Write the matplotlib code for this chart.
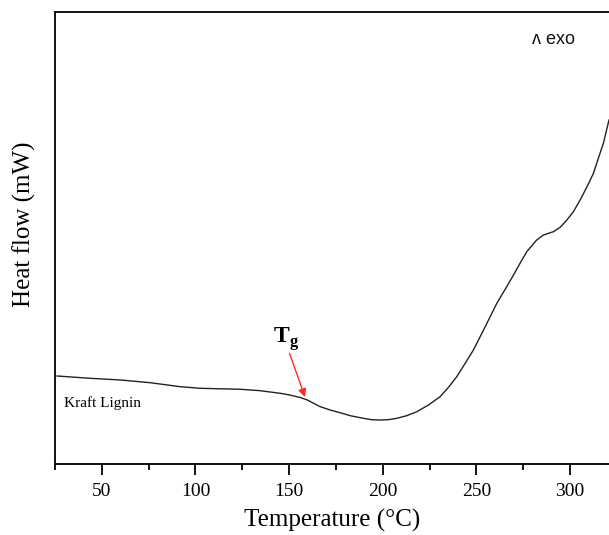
import matplotlib
matplotlib.use("Agg")
import matplotlib.pyplot as plt
from matplotlib.ticker import MultipleLocator

plt.rcParams['mathtext.fontset'] = 'custom'
plt.rcParams['mathtext.rm'] = 'Liberation Serif'
plt.rcParams['mathtext.bf'] = 'Liberation Serif:bold'

# Data (temperature in °C, heat flow in arbitrary mW units)
temperature = [26.1, 43.8, 60.2, 75.8, 91.9, 102.5, 123.9, 134.5, 145.3,
               150.5, 156.0, 159.5, 166.5, 171.9, 177.2, 182.6, 189.7, 194.1,
               198.6, 203.0, 207.5, 212.8, 218.2, 224.4, 230.6, 235.1, 239.5,
               244.0, 248.4, 252.0, 255.6, 260.9, 266.2, 269.8, 273.3, 276.9,
               282.2, 285.8, 291.1, 294.7, 298.3, 301.8, 305.4, 308.9, 312.5,
               315.1, 317.8, 320.8]
heat_flow = [1.947, 1.896, 1.858, 1.799, 1.710, 1.675, 1.653, 1.622, 1.564,
             1.525, 1.470, 1.420, 1.270, 1.195, 1.135, 1.069, 1.011, 0.980,
             0.973, 0.980, 1.011, 1.069, 1.157, 1.305, 1.489, 1.697, 1.931,
             2.228, 2.522, 2.816, 3.113, 3.555, 3.923, 4.181, 4.440, 4.697,
             4.956, 5.066, 5.139, 5.236, 5.398, 5.582, 5.841, 6.122, 6.431,
             6.763, 7.095, 7.611]

x_ticks = [50, 100, 150, 200, 250, 300]
tg_arrow_start = (150.2, 2.45)
tg_arrow_end = (158.5, 1.48)

fig = plt.figure(figsize=(6.09, 5.35), dpi=100)
ax = fig.add_axes([55/609, 71/535, 1 - 55/609, 452/535])

ax.plot(temperature, heat_flow, color='#222222', lw=1.0)

ax.set_xlim(25, 320.8)
ax.set_ylim(0, 10)
ax.set_xticks(x_ticks)
ax.xaxis.set_minor_locator(MultipleLocator(25))
ax.set_yticks([])
ax.spines['right'].set_visible(False)
for s in ['left', 'top', 'bottom']:
    ax.spines[s].set_linewidth(1.4)
    ax.spines[s].set_color('#111111')
ax.tick_params(axis='x', which='major', direction='out', length=8, width=1.3,
               labelsize=14, pad=6)
ax.tick_params(axis='x', which='minor', direction='out', length=4, width=1.3)
for lab in ax.get_xticklabels():
    lab.set_family('Liberation Serif')

ax.set_xlabel('Temperature (°C)', family='Liberation Serif', fontsize=18, labelpad=6)
ax.set_ylabel('Heat flow (mW)', family='Liberation Serif', fontsize=18)
ax.yaxis.set_label_coords(-0.034, 0.53)

ax.text(291, 9.4, 'ʌ exo', family=['Liberation Sans', 'DejaVu Sans'], fontsize=13,
        ha='center', va='center', color='#111111')
ax.text(30, 1.35, 'Kraft Lignin', family='Liberation Serif', fontsize=11, ha='left', va='center')
ax.text(141.5, 2.68, r'$\mathbf{T}_{\mathbf{g}}$', fontsize=17, ha='left', va='baseline')
ax.annotate('', xy=tg_arrow_end, xytext=tg_arrow_start,
            arrowprops=dict(arrowstyle='-|>', color='#ff2a2a', lw=1.0,
                            mutation_scale=12, shrinkA=0, shrinkB=0))

fig.savefig('out.png', dpi=100)
